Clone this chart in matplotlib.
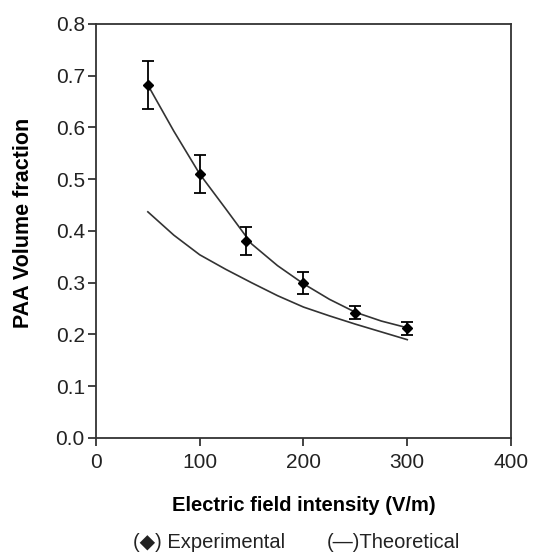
import matplotlib.pyplot as plt

plt.rcParams['font.family'] = ['Liberation Sans', 'DejaVu Sans']

# experimental points with error bars
exp_x = [50, 100, 145, 200, 250, 300]
exp_y = [0.682, 0.510, 0.381, 0.300, 0.242, 0.212]
exp_err = [0.046, 0.037, 0.027, 0.021, 0.013, 0.013]

# curve drawn through the experimental points
fit_x = [50, 75, 100, 125, 150, 175, 200, 225, 250, 275, 300]
fit_y = [0.682, 0.593, 0.510, 0.443, 0.375, 0.333, 0.298, 0.268, 0.243, 0.226, 0.213]

# theoretical curve
theo_x = [50, 75, 100, 125, 150, 175, 200, 225, 250, 275, 300]
theo_y = [0.437, 0.392, 0.354, 0.326, 0.300, 0.275, 0.253, 0.236, 0.220, 0.205, 0.190]

fig = plt.figure(figsize=(5.51, 5.54), dpi=100)
ax = fig.add_axes([0.1742, 0.2094, 0.7532, 0.7473])

ax.plot(fit_x, fit_y, color="#333333", lw=1.2)
ax.plot(theo_x, theo_y, color="#333333", lw=1.2)
ax.errorbar(exp_x, exp_y, yerr=exp_err, fmt="D", color="black", ms=5.5,
            capsize=4.5, elinewidth=1.3, capthick=1.3)

ax.set_xlim(0, 400)
ax.set_ylim(0, 0.8)
ax.set_xticks([0, 100, 200, 300, 400])
ax.set_yticks([0.0, 0.1, 0.2, 0.3, 0.4, 0.5, 0.6, 0.7, 0.8])
ax.set_yticklabels(["0.0", "0.1", "0.2", "0.3", "0.4", "0.5", "0.6", "0.7", "0.8"])
ax.tick_params(direction="out", length=6, width=1.2, labelsize=15, colors="#222222")
ax.tick_params(axis="x", pad=5)
ax.tick_params(axis="y", pad=2)
for s in ax.spines.values():
    s.set_linewidth(1.3)
    s.set_color("#333333")

ax.set_xlabel("Electric field intensity (V/m)", fontsize=14.5, fontweight="bold", labelpad=17)
ax.set_ylabel("PAA Volume fraction", fontsize=15.5, fontweight="bold")
ax.yaxis.set_label_coords(-0.149, 0.519)

fig.text(0.242, 0.011, "(\u25c6) Experimental", fontsize=14.5, color="#222222")
fig.text(0.593, 0.011, "(\u2014)Theoretical", fontsize=14.5, color="#222222")

fig.savefig("out.png", dpi=100)
